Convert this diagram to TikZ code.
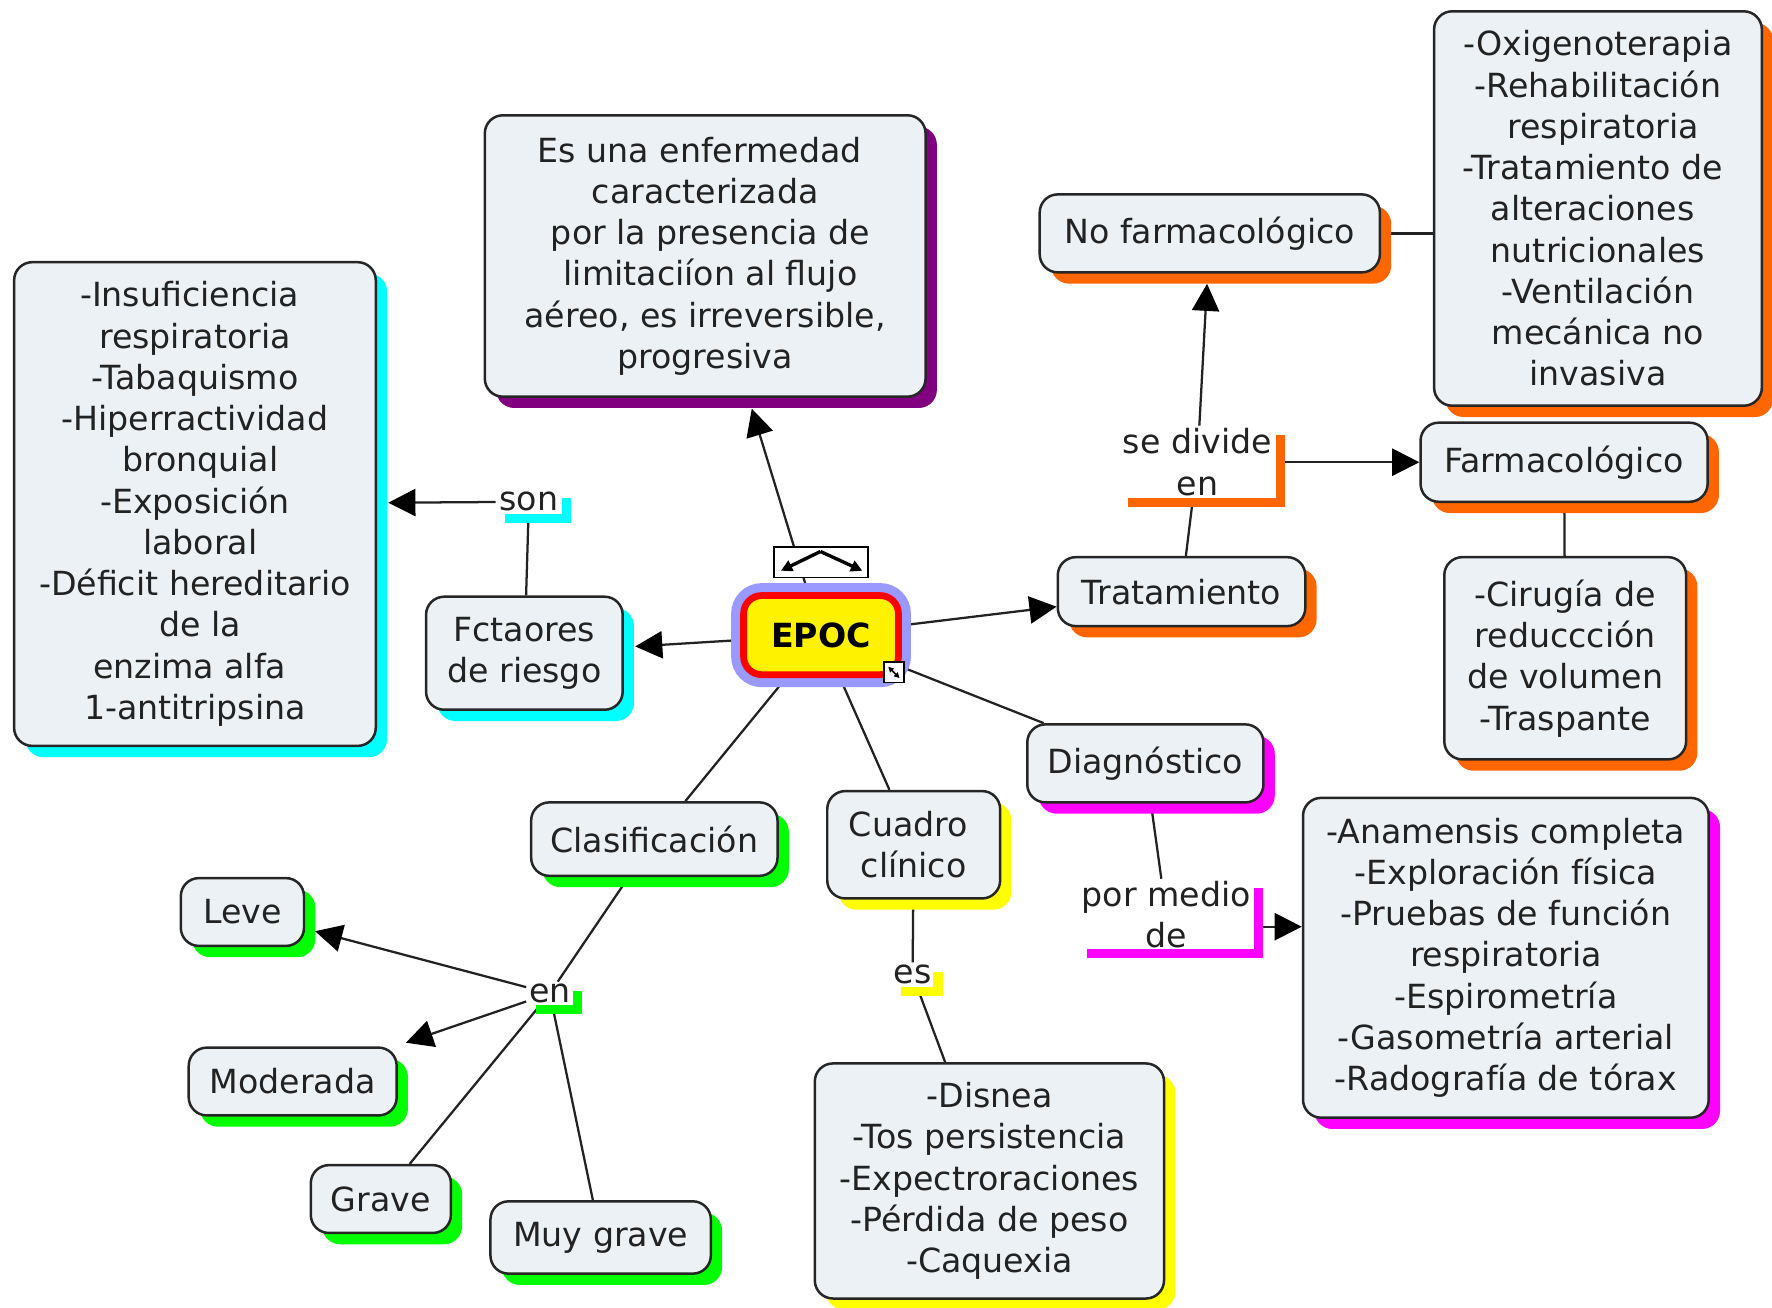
\documentclass[tikz,border=0pt]{standalone}
\usepackage{fontspec}
\setmainfont{DejaVu Sans}
\usetikzlibrary{arrows.meta,shadows,backgrounds}
\definecolor{boxfill}{HTML}{EBF1F4}
\definecolor{bordc}{HTML}{262626}
\definecolor{txtc}{HTML}{222222}
\definecolor{linec}{HTML}{222222}
\definecolor{shpurple}{HTML}{800080}
\definecolor{shcyan}{HTML}{00FFFF}
\definecolor{shorange}{HTML}{FF6600}
\definecolor{shmag}{HTML}{FF00FF}
\definecolor{shyellow}{HTML}{FFFF00}
\definecolor{shgreen}{HTML}{00FF00}
\definecolor{halo}{HTML}{9999FF}
\definecolor{epocred}{HTML}{FF0000}
\newcommand\mf{\fontsize{14.7pt}{18.25pt}\selectfont}
\newcommand\xsp{\hbox to 4.7pt{}}
\tikzset{
  box/.style={draw=bordc, line width=1.1pt, fill=boxfill, rounded corners=8pt,
    align=center, text=txtc, font=\mf, inner sep=0pt,
    drop shadow={shadow xshift=5pt, shadow yshift=-5pt, opacity=1, fill=#1}},
  lbl/.style={fill=white, inner sep=0pt, align=center, font=\mf, text=txtc,
    drop shadow={shadow xshift=4pt, shadow yshift=-4pt, opacity=1, fill=#1}},
  con/.style={draw=linec, line width=1pt},
  arr/.style={con, -{Triangle[length=12pt,width=12pt,color=black]}},
}
\begin{document}
\begin{tikzpicture}[x=0.5pt,y=-0.5pt]
\useasboundingbox (0,0) rectangle (1568,1157.4);

% concept boxes
\node[box=shpurple, minimum width=195pt, minimum height=124.5pt] (desc) at (624,226.5)
  {Es una enfermedad\xsp\\caracterizada\\\xsp por la presencia de\\\xsp limitaciíon al flujo\\aéreo, es irreversible,\\progresiva};
\node[box=shcyan, minimum width=160pt, minimum height=214pt] (left) at (172.5,446)
  {-Insuficiencia\xsp\\respiratoria\\-Tabaquismo\\-Hiperractividad\\\xsp bronquial\\-Exposición\\\xsp laboral\\-Déficit hereditario\\\xsp de la\\enzima alfa\xsp\\1-antitripsina};
\node[box=shcyan, minimum width=87pt, minimum height=50pt] (fct) at (464,578) {Fctaores\\de riesgo};
\node[box=shorange, minimum width=109.5pt, minimum height=30.5pt] (trat) at (1045.5,523.5) {Tratamiento};
\node[box=shorange, minimum width=150.5pt, minimum height=34.5pt] (nofarm) at (1070.5,206.5) {No farmacológico};
\node[box=shorange, minimum width=145pt, minimum height=174.5pt] (trbox) at (1414,184.5)
  {-Oxigenoterapia\\-Rehabilitación\\\xsp respiratoria\\-Tratamiento de\xsp\\alteraciones\xsp\\nutricionales\\-Ventilación\\mecánica no\\invasiva};
\node[box=shorange, minimum width=127pt, minimum height=35pt] (farm) at (1384,409) {Farmacológico};
\node[box=shorange, minimum width=107pt, minimum height=89.5pt] (cir) at (1385,582.5)
  {-Cirugía de\\reduccción\\de volumen\\-Traspante};
\node[box=shmag, minimum width=104.5pt, minimum height=34.5pt] (diag) at (1013.5,675.5) {Diagnóstico};
\node[box=shmag, minimum width=179.5pt, minimum height=141.5pt] (ana) at (1332.5,847.5)
  {-Anamensis completa\\-Exploración física\\-Pruebas de función\\respiratoria\\-Espirometría\\-Gasometría arterial\\-Radografía de tórax};
\node[box=shyellow, minimum width=76.5pt, minimum height=47.5pt] (cuadro) at (808.5,747.5) {Cuadro\xsp\\clínico};
\node[box=shyellow, minimum width=154.5pt, minimum height=104pt] (disnea) at (875.5,1045)
  {-Disnea\\-Tos persistencia\\-Expectroraciones\\-Pérdida de peso\\-Caquexia};
\node[box=shgreen, minimum width=109pt, minimum height=32.5pt] (clas) at (579,742.5) {Clasificación};
\node[box=shgreen, minimum width=54.5pt, minimum height=30pt] (leve) at (214.5,807) {Leve};
\node[box=shgreen, minimum width=92pt, minimum height=30pt] (mod) at (259,957) {Moderada};
\node[box=shgreen, minimum width=62pt, minimum height=30pt] (grave) at (337,1061) {Grave};
\node[box=shgreen, minimum width=97.5pt, minimum height=32pt] (muy) at (531.5,1095) {Muy grave};

% central concept
\node[fill=yellow, draw=epocred, line width=3pt, rounded corners=8pt,
  minimum width=68.5pt, minimum height=35pt, inner sep=0pt, font=\mf\bfseries, text=black,
  preaction={draw=halo, line width=11pt}] (epoc) at (726.5,562) {EPOC};

% linking phrases
\node[lbl=shcyan, minimum width=29pt, minimum height=11pt] (son) at (468,444) {son};
\node[lbl=shorange, minimum width=69.5pt, minimum height=32pt] (sediv) at (1059.5,409) {se divide\\en};
\node[lbl=shmag, minimum width=78pt, minimum height=31pt] (pormedio) at (1032,809) {por medio\\de};
\node[lbl=shyellow, minimum width=18.5pt, minimum height=10.5pt] (es) at (807.5,862.5) {es};
\node[lbl=shgreen, minimum width=20.5pt, minimum height=10pt] (en) at (486.5,879) {en};

% icons on EPOC
\node[draw=black, fill=white, line width=0.8pt, minimum width=41.5pt, minimum height=13.5pt, inner sep=0pt] (icon) at (726.5,497.5) {};
\draw[line width=1.5pt, -{Triangle[length=5pt,width=5pt]}] (726,488) -- (691,505);
\draw[line width=1.5pt, -{Triangle[length=5pt,width=5pt]}] (726,488) -- (763,505);
\node[draw=black, fill=white, line width=0.8pt, minimum size=9pt, inner sep=0pt] (rsz) at (791,595) {};
\draw[line width=0.7pt, {Triangle[length=2.4pt,width=2.4pt]}-{Triangle[length=2.4pt,width=2.4pt]}] (786,590) -- (796,600);

% connectors
\begin{scope}[on background layer]
\draw[arr, shorten >=5pt] (epoc) -- (desc);
\draw[arr, shorten >=5pt] (epoc) -- (fct);
\draw[con] (fct) -- (son);
\draw[arr, shorten >=5pt] (son) -- (left);
\draw[arr] (epoc) -- (trat);
\draw[con] (trat) -- (sediv);
\draw[arr, shorten >=4.5pt] (sediv) -- (nofarm);
\draw[arr] (sediv) -- (farm);
\draw[con] (nofarm) -- (nofarm -| trbox.west);
\draw[con] (farm) -- (cir);
\draw[con] (epoc) -- (diag);
\draw[con] (diag) -- (pormedio);
\draw[arr] ([yshift=-5.5pt]pormedio.east) -- ([yshift=-5.5pt]pormedio.east -| ana.west);
\draw[con] (epoc) -- (cuadro);
\draw[con] (cuadro) -- (es);
\draw[con] (es) -- (disnea);
\draw[con] (epoc) -- (clas);
\draw[con] (clas) -- (en);
\draw[arr, shorten >=4.5pt] (en) -- (leve);
\draw[arr, shorten >=5pt] (en) -- (mod);
\draw[con] (en) -- (grave);
\draw[con] (en) -- (muy);
\end{scope}
\end{tikzpicture}
\end{document}
